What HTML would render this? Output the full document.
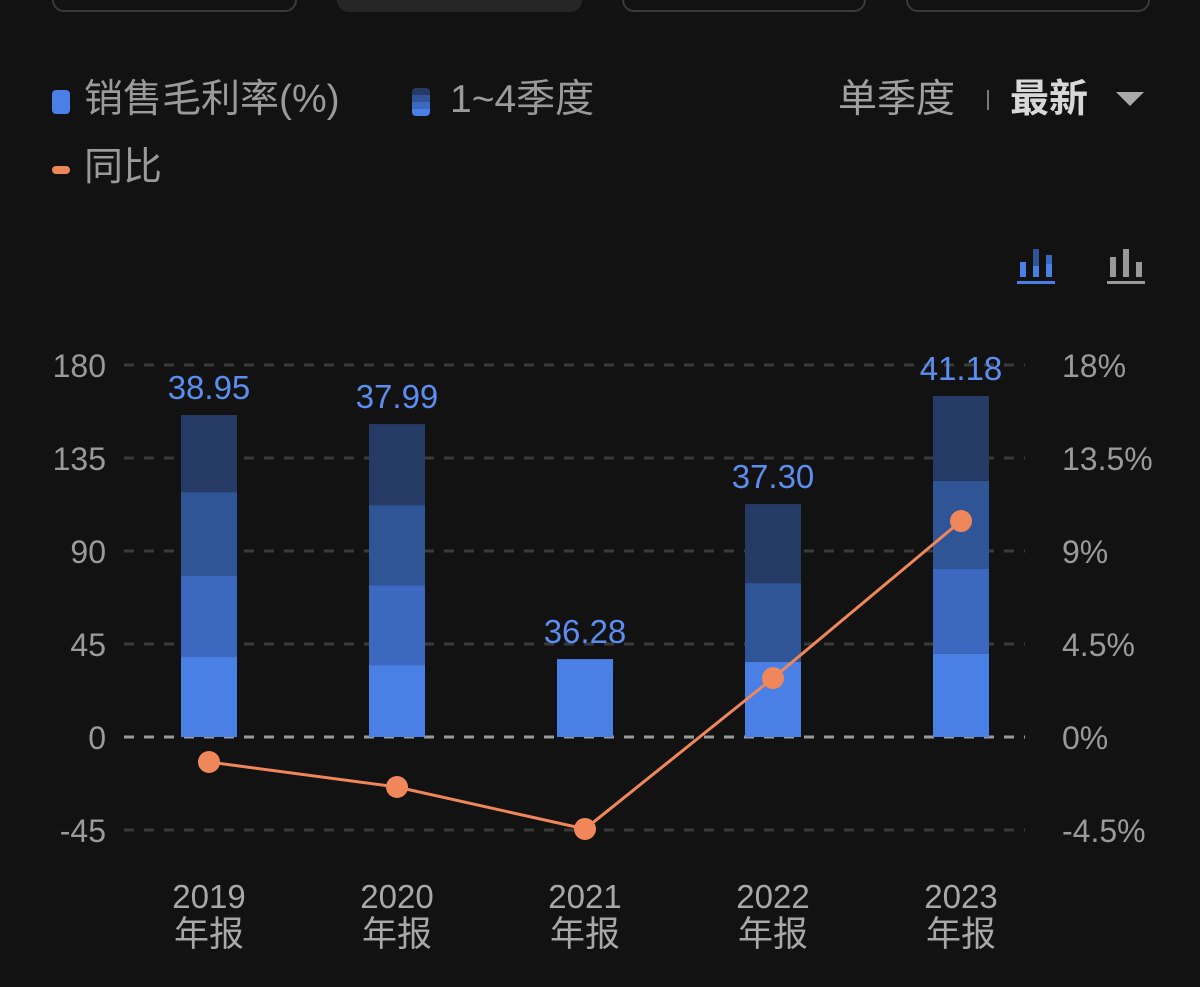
<!DOCTYPE html>
<html><head><meta charset="utf-8"><style>
html,body{margin:0;padding:0;background:#121212;width:1200px;height:987px;overflow:hidden;font-family:"Liberation Sans","Noto Sans CJK SC",sans-serif}
.tab{position:absolute;top:-12px;height:24px;border:2px solid #3a3a3a;border-radius:12px;box-sizing:border-box}
.lg{position:absolute;color:#9a9a9a;font-size:39px;line-height:1}
</style></head><body>
<div class="tab" style="left:52px;width:245px"></div>
<div class="tab" style="left:337px;width:245px;background:#262626;border-color:#262626"></div>
<div class="tab" style="left:622px;width:244px"></div>
<div class="tab" style="left:906px;width:244px"></div>

<div class="lg" style="left:52px;top:80px"><span style="display:inline-block;width:18px;height:24px;background:#4a7fe6;border-radius:4px;vertical-align:middle;margin-right:14px"></span>销售毛利率(%)</div>
<div class="lg" style="left:412px;top:80px"><span style="display:inline-block;width:18px;height:28px;background:linear-gradient(#263a66 0 25%,#2f5597 25% 50%,#3d68bf 50% 75%,#4a7fe6 75%);border-radius:4px;vertical-align:middle;margin-right:20px"></span>1~4季度</div>
<div class="lg" style="left:52px;top:148px"><span style="display:inline-block;width:18px;height:8px;background:#f0875a;border-radius:4px;vertical-align:middle;margin-right:14px"></span>同比</div>
<div class="lg" style="left:838px;top:80px;color:#a0a0a0">单季度</div>
<div style="position:absolute;left:987px;top:90px;width:2px;height:20px;background:#777"></div>
<div class="lg" style="left:1010px;top:80px;color:#d8d8d8;font-weight:bold">最新</div>
<div style="position:absolute;left:1116px;top:92px;width:0;height:0;border-left:14px solid transparent;border-right:14px solid transparent;border-top:14px solid #aaa"></div>

<svg width="1200" height="987" style="position:absolute;left:0;top:0">
<g>
<rect x="1020" y="262" width="6" height="15" fill="#4a7fe6"/><rect x="1033" y="249" width="6" height="28" fill="#2f5597"/><rect x="1033" y="266" width="6" height="11" fill="#4a7fe6"/><rect x="1046" y="255" width="6" height="22" fill="#3d68bf"/><rect x="1046" y="264" width="6" height="13" fill="#4a7fe6"/><rect x="1017" y="281" width="38" height="3" fill="#4a7fe6"/>
</g>
<g fill="#999">
<rect x="1110" y="257" width="6" height="20"/><rect x="1123" y="249" width="6" height="28"/><rect x="1136" y="262" width="6" height="15"/><rect x="1107" y="281" width="38" height="3"/>
</g>
<g id="g"></g>
</svg>
<script>
const categories=["2019","2020","2021","2022","2023"];
const q1=[38.7,34.8,37.7,36.3,40.2];
const q2=[39.2,38.7,null,38.2,41.1];
const q3=[40.6,38.7,null,38.2,42.6];
const q4=[37.3,39.2,null,null,41.1];
const totalLabels=["38.95","37.99","36.28","37.30","41.18"];
const yoy=[-1.21,-2.42,-4.45,2.85,10.45];
const leftTicks=[180,135,90,45,0,-45];
const rightTicks=["18%","13.5%","9%","4.5%","0%","-4.5%"];
const NS="http://www.w3.org/2000/svg";
const g=document.getElementById('g');
const y0=737,k=372/180;
const yL=v=>y0-v*k;
const yR=v=>y0-v*372/18;
const xC=i=>209+i*188;
function el(t,a){const e=document.createElementNS(NS,t);for(const n in a)e.setAttribute(n,a[n]);g.appendChild(e);return e;}
leftTicks.forEach((t,i)=>{
  const y=yL(t);
  const l=el('line',{x1:124,x2:1025,y1:y,y2:y,stroke:t===0?'#9a9a9a':'#3a3a3a','stroke-width':3,'stroke-dasharray':'10 10'});
  
  
  const a=el('text',{x:106,y:y+12,'text-anchor':'end',fill:'#9a9a9a','font-size':32});
  a.textContent=t;
  
  
  const b=el('text',{x:1062,y:y+12,fill:'#9a9a9a','font-size':32});
  b.textContent=rightTicks[i];
  
  
});
const segs=[q1,q2,q3,q4],cols=['#4a7fe6','#3d68bf','#2f5597','#263a66'];
categories.forEach((c,i)=>{
  let base=0;
  const n=segs.filter(s=>s[i]!=null).length;
  segs.forEach((s,j)=>{
    const v=s[i];if(v==null)return;
    const ci=j===0?0:j+(4-n);
    const r=el('rect',{x:xC(i)-28,width:56,y:yL(base+v),height:v*k,fill:cols[ci]});
    
    
    base+=v;
  });
  const t=el('text',{x:xC(i),y:yL(base)-16,'text-anchor':'middle',fill:'#5b8ef0','font-size':33});
  t.textContent=totalLabels[i];
  
  
  const x1=el('text',{x:xC(i),y:908,'text-anchor':'middle',fill:'#a8a8a8','font-size':33});
  x1.textContent=c;
  
  
  const x2=el('text',{x:xC(i),y:946,'text-anchor':'middle',fill:'#a8a8a8','font-size':35});
  x2.textContent='年报';
  
  
});
const pl=el('polyline',{points:yoy.map((v,i)=>xC(i)+','+yR(v)).join(' '),fill:'none',stroke:'#f0875a','stroke-width':3});


yoy.forEach((v,i)=>{
  const p=el('circle',{cx:xC(i),cy:yR(v),r:11,fill:'#f0875a'});
  
  
});
</script>
</body></html>
